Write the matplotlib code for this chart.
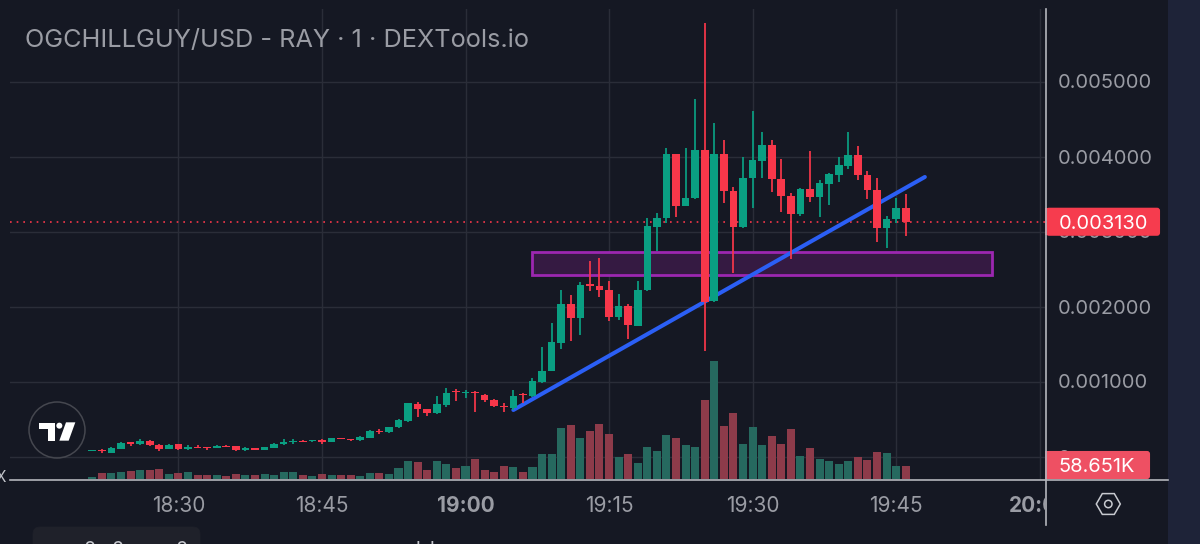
import numpy as np
import matplotlib
matplotlib.use("Agg")
import matplotlib.pyplot as plt
from matplotlib.patches import Rectangle, FancyBboxPatch, Polygon, Circle, RegularPolygon
from matplotlib.transforms import Bbox

plt.rcParams['font.family'] = ['Inter', 'DejaVu Sans']

# minutes after 18:00, one candle per minute (18:21 ... 19:46)
minutes = list(range(21, 107))

# prices in millionths of a USD
opens = [73,87,51,104,189,162,207,158,104,162,104,131,127,118,144,136,91,109,91,118,167,193,211,202,220,198,247,233,220,247,344,322,389,
         473,704,633,576,687,878,847,864,820,753,678,642,829,807,993,1140,1509,2033,1847,2300,2278,2220,1856,2007,1744,
         2220,3064,3175,4029,3344,3442,4087,2077,4029,3544,3055,3709,3944,4153,3700,3478,3233,3567,3455,3638,3758,3878,4020,3753,3549,3047,3167,3309]
closes = [82,69,113,184,171,207,153,104,158,96,131,113,109,140,131,82,109,91,122,167,198,211,198,216,198,242,233,216,256,340,322,389,487,
          709,629,576,696,842,860,856,851,749,669,656,811,816,1007,1140,1522,2033,1847,2287,2278,2216,1860,2007,1753,2224,
          3073,3175,4029,3344,3451,4087,2060,4029,3544,3055,3709,3949,4153,3700,3478,3238,3567,3455,3647,3767,3882,4020,3749,3549,3047,3167,3309,3130]
highs = [82,104,122,193,193,233,220,167,167,167,149,153,131,149,149,140,127,113,131,176,229,233,216,220,229,251,251,238,269,353,362,398,496,
         718,731,638,811,918,896,891,869,838,762,709,887,847,1042,1464,1780,2224,2158,2331,2602,2651,2336,2167,2029,2340,
         3175,3251,4109,4033,4118,4767,5784,4451,4220,3598,3998,4611,4322,4220,3966,3509,3576,4078,3687,3784,3993,4322,4135,3811,3718,3207,3451,3500]
lows = [73,47,47,100,140,158,140,78,100,91,87,109,91,113,127,78,78,87,87,113,153,162,193,198,167,193,229,207,211,242,296,318,384,
        464,531,544,571,664,740,784,593,722,656,589,620,709,798,976,1136,1433,1540,1620,2207,2122,1802,1820,1571,1740,
        2211,2744,3109,3198,3340,3433,1407,2060,3375,2442,3051,3309,3718,3531,3255,2629,3207,3389,3198,3353,3660,3833,3687,3429,2860,2784,3109,2935]
# volume in thousands
volumes = [9,26,26,31,35,39,39,45,23,25,29,17,17,15,12,20,17,15,20,19,29,32,17,14,22,17,17,17,12,26,25,22,48,
           80,77,40,80,66,51,57,89,40,32,57,52,29,52,114,113,233,247,187,221,253,205,99,113,74,
           148,128,202,190,156,148,363,545,242,306,162,239,154,198,162,232,106,142,89,82,69,83,100,85,125,117,59,58.651]

time_ticks = [30, 45, 60, 75, 90, 105, 120]
time_labels = ["18:30", "18:45", "19:00", "19:15", "19:30", "19:45", "20:00"]
price_ticks = [0, 1000, 2000, 3000, 4000, 5000]
price_labels = ["0", "0.001000", "0.002000", "0.003000", "0.004000", "0.005000"]

last_price = 3130
last_price_label = "0.003130"
last_volume_label = "58.651K"
title = "OGCHILLGUY/USD - RAY · 1 · DEXTools.io"

trend_x = [65, 108]
trend_y = [620, 3727]
zone_x = [67, 115]
zone_y = [2420, 2723]

BG = "#151823"
STRIP = "#1e2338"
GRID = "#2a2d38"
UP = "#0a9f82"
DOWN = "#f7374a"
UP_VOL = "#26695f"
DOWN_VOL = "#8d3b4a"
TEXT = "#9a9ca4"
AXIS = "#b4b6bc"

W, H = 1200, 544
fig = plt.figure(figsize=(W / 100, H / 100), dpi=100, facecolor=BG)
L, R, T, B = 10, 1045, 9, 480
rect = [L / W, 1 - B / H, (R - L) / W, (B - T) / H]

PX_MIN, X60, PX_PRICE, Y0 = 9.57, 465.5, 0.075, 456.5
ax = fig.add_axes(rect, facecolor=BG)
ax.set_xlim(60 + (L - X60) / PX_MIN, 60 + (R - X60) / PX_MIN)
ax.set_ylim((Y0 - B) / PX_PRICE, (Y0 - T) / PX_PRICE)

m = np.array(minutes)
o, c, h, l = map(np.array, (opens, closes, highs, lows))
v = np.array(volumes)
up = c >= o
colors = np.where(up, UP, DOWN)

ax.set_axisbelow(True)
ax.grid(True, color=GRID, lw=1)
for s in ax.spines.values():
    s.set_visible(False)
ax.yaxis.tick_right()
ax.set_yticks(price_ticks, price_labels)
ax.set_xticks(time_ticks, time_labels)
ax.tick_params(length=0, labelcolor=TEXT)
ax.tick_params(axis='y', pad=9.2, labelsize=14.4)
ax.tick_params(axis='x', pad=11.5, labelsize=15)
clip = Bbox([[0, 0], [R, H]])
for lab, name in zip(ax.get_xticklabels(), time_labels):
    lab.set_clip_on(True)
    lab.set_clip_box(clip)
    if name in ("19:00", "20:00"):
        lab.set_fontweight("bold")

# volume pane sharing the same rectangle
vax = fig.add_axes(rect, facecolor="none", zorder=ax.get_zorder() + 1)
px_k = 117.7 / 545
vax.set_xlim(ax.get_xlim())
vax.set_ylim(-1.3 / px_k, 469.7 / px_k)
vax.axis("off")
vax.bar(m, v, width=0.84, color=np.where(up, UP_VOL, DOWN_VOL), lw=0)

# price marks pane
pax = fig.add_axes(rect, facecolor="none", zorder=vax.get_zorder() + 1)
pax.set_xlim(ax.get_xlim())
pax.set_ylim(ax.get_ylim())
pax.axis("off")
pax.axhline(last_price, color=DOWN, lw=1.2, ls=(0, (1, 3)), zorder=1)
pax.add_patch(Rectangle((zone_x[0], zone_y[0]), zone_x[1] - zone_x[0], zone_y[1] - zone_y[0],
                        facecolor="#351a42", edgecolor="#9c27b0", lw=2, zorder=2))
pax.plot(trend_x, trend_y, color="#2b5ff5", lw=2.9, solid_capstyle="round", zorder=3)
pax.vlines(m, l, h, colors=colors, lw=1.25, zorder=4)
pax.bar(m, np.maximum(np.abs(c - o), 8), bottom=np.minimum(o, c), width=0.8, color=colors, lw=0, zorder=5)

# chrome drawn in pixel coordinates
ov = fig.add_axes([0, 0, 1, 1], facecolor="none", zorder=pax.get_zorder() + 1)
ov.set_xlim(0, W)
ov.set_ylim(H, 0)
ov.axis("off")
ov.add_patch(Rectangle((1168, 0), 32, H, color=STRIP, lw=0))
ov.plot([10, 1168], [480, 480], color=AXIS, lw=1.2)
ov.plot([1045.5, 1045.5], [9, 525], color=AXIS, lw=1.2)
ov.text(25, 40, title, fontsize=18.2, color=TEXT, va="center", ha="left")

# last-value tags
ypx = Y0 - last_price * PX_PRICE
ov.add_patch(FancyBboxPatch((1047, ypx - 13), 112, 26, boxstyle="round,pad=0,rounding_size=2",
                            fc="#f63c4e", ec="#f63c4e", lw=1.5))
ov.add_patch(Rectangle((1045, ypx - 13.7), 6, 27.4, color="#f63c4e", lw=0))
ov.text(1058.5, ypx, last_price_label, color="white", fontsize=14.4, va="center_baseline", ha="left")
ov.add_patch(FancyBboxPatch((1047, 452), 102, 26, boxstyle="round,pad=0,rounding_size=2",
                            fc="#ee5063", ec="#ee5063", lw=1.5))
ov.add_patch(Rectangle((1045, 451.3), 6, 27.4, color="#ee5063", lw=0))
ov.text(1058.5, 465, last_volume_label, color="white", fontsize=14.4, va="center_baseline", ha="left")

# logo
ov.add_patch(Circle((57, 430), 28, fill=False, ec="#45474f", lw=1.1))
X = lambda a: a / 3
Y = lambda b: 340 + b / 3
ov.add_patch(Polygon([(X(118), Y(248)), (X(165), Y(248)), (X(165), Y(302)), (X(143), Y(302)), (X(143), Y(268)), (X(118), Y(268))], color="white", lw=0))
ov.add_patch(Circle((X(178), Y(257)), 3, color="white", lw=0))
ov.add_patch(Polygon([(X(198), Y(247)), (X(226), Y(247)), (X(206), Y(302)), (X(178), Y(302))], color="white", lw=0))

# settings icon
ov.add_patch(RegularPolygon((1108.3, 504), 6, radius=12, orientation=np.pi / 2, fill=False, ec="#c8cad0", lw=1.1))
ov.add_patch(Circle((1108.3, 504), 3.7, fill=False, ec="#c8cad0", lw=1.1))

# cropped button and fragments at the lower edge
ov.add_patch(FancyBboxPatch((33, 527), 167, 40, boxstyle="round,pad=0,rounding_size=7", fc="#1f212a", ec="#1f212a", lw=0.5))
for xp in (90, 118, 182):
    ov.text(xp, 541, "0", color="#c4c6cc", fontsize=14, va="top", ha="center", clip_on=True)
for xp in (418, 432):
    ov.text(xp, 541, "l", color="#c4c6cc", fontsize=14, va="top", ha="center", clip_on=True)
ov.text(-4, 478, "X", color="#c4c6cc", fontsize=11, va="center", ha="left", clip_on=True)

fig.savefig("out.png", dpi=100, facecolor=BG)
